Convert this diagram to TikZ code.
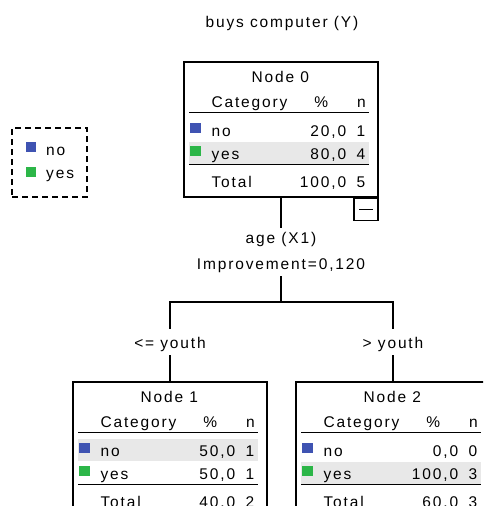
\documentclass[tikz,border=0pt]{standalone}
\usepackage{fontspec}
\setmainfont{Liberation Sans}[LetterSpace=12]
\usetikzlibrary{positioning}

\definecolor{catno}{RGB}{63,83,178}
\definecolor{catyes}{RGB}{44,182,72}
\definecolor{rowgray}{RGB}{232,232,232}

\tikzset{
  treebox/.style={draw, line width=1.3pt, minimum width=194pt, minimum height=135pt, inner sep=0pt},
  togglebox/.style={draw, line width=1.3pt, minimum width=24pt, minimum height=22pt, inner sep=0pt},
  legendbox/.style={draw, line width=1.3pt, dash pattern=on 6pt off 4pt, minimum width=75pt, minimum height=69pt, inner sep=0pt},
  celltext/.style={inner sep=0pt},
  branchlabel/.style={inner sep=4pt},
  rule/.style={line width=1.6pt},
  link/.style={line width=1.4pt}
}

% one table of a tree node, drawn from the node's upper left corner
\newcommand{\nodetable}[9]{%
  \fill[rowgray] (6,#9) rectangle (186,{#9+22});
  \node[celltext, anchor=base] (#1-title) at (97,21) {Node #2};
  \node[celltext, anchor=base west] (#1-cat) at (28,46) {Category};
  \node[celltext, anchor=base] (#1-pct) at (138,46) {\%};
  \node[celltext, anchor=base] (#1-n) at (178,46) {n};
  \draw[rule] (6,51) -- (186,51);
  \fill[catno] (7,62) rectangle (18,72);
  \node[celltext, anchor=base west] (#1-no) at (28,75) {no};
  \node[celltext, anchor=base east] (#1-nopct) at (163,75) {#3};
  \node[celltext, anchor=base east] (#1-non) at (182,75) {#4};
  \fill[catyes] (7,85) rectangle (18,95);
  \node[celltext, anchor=base west] (#1-yes) at (28,98) {yes};
  \node[celltext, anchor=base east] (#1-yespct) at (163,98) {#5};
  \node[celltext, anchor=base east] (#1-yesn) at (182,98) {#6};
  \draw[rule] (6,103) -- (186,103);
  \node[celltext, anchor=base west] (#1-total) at (28,126) {Total};
  \node[celltext, anchor=base east] (#1-totpct) at (163,126) {#7};
  \node[celltext, anchor=base east] (#1-totn) at (182,126) {#8};
}

\begin{document}
\begin{tikzpicture}[x=1pt, y=-1pt, font=\fontsize{15.5}{18}\selectfont]
  \useasboundingbox (0,0) rectangle (483,506);
  \clip (0,0) rectangle (483,506);
  \fill[white] (0,0) rectangle (483,506);

  \node[celltext] (target) at (282,23) {buys computer (Y)};

  % legend
  \node[legendbox] (legend) at (49.5,162.5) {};
  \fill[catno] (26,142) rectangle (36,152);
  \node[celltext, anchor=base west] (legend-no) at (46,155) {no};
  \fill[catyes] (26,167) rectangle (36,177);
  \node[celltext, anchor=base west] (legend-yes) at (46,178) {yes};

  % root
  \node[treebox] (n0) at (281,129.5) {};
  \begin{scope}[shift={(n0.north west)}]
    \nodetable{n0}{0}{20,0}{1}{80,0}{4}{100,0}{5}{81}
  \end{scope}
  \node[togglebox, anchor=north east] (n0toggle) at (n0.south east) {};
  \draw[line width=1.2pt] ([xshift=-7pt]n0toggle.center) -- ([xshift=7pt]n0toggle.center);

  % split
  \node[branchlabel, anchor=base] (split0) at (281,243) {age (X1)};
  \node[celltext, anchor=base] (split0imp) at (281,269) {Improvement=0,120};
  \coordinate (fork0) at (281,302);
  \draw[link] (n0.south) -- (split0.north);
  \draw[link] ([yshift=-4pt]split0imp.south) -- (fork0);
  \node[branchlabel, anchor=base] (edge1) at (170,348) {<= youth};
  \node[branchlabel, anchor=base] (edge2) at (393,348) {> youth};
  \draw[link] (fork0) -| ([yshift=4pt]edge1.north);
  \draw[link] (fork0) -| ([yshift=4pt]edge2.north);

  % children
  \node[treebox] (n1) at (170,449.5) {};
  \begin{scope}[shift={(n1.north west)}]
    \nodetable{n1}{1}{50,0}{1}{50,0}{1}{40,0}{2}{58}
  \end{scope}
  \node[treebox] (n2) at (393,449.5) {};
  \begin{scope}[shift={(n2.north west)}]
    \nodetable{n2}{2}{0,0}{0}{100,0}{3}{60,0}{3}{81}
  \end{scope}
  \draw[link] (edge1.south) -- (n1.north);
  \draw[link] (edge2.south) -- (n2.north);
\end{tikzpicture}
\end{document}
